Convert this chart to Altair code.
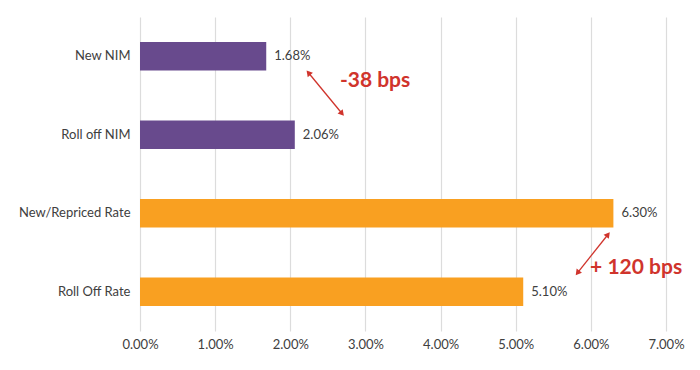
import altair as alt
import pandas as pd

categories = ["New NIM", "Roll off NIM", "New/Repriced Rate", "Roll Off Rate"]
values = [0.0168, 0.0206, 0.0630, 0.0510]
groups = ["NIM", "NIM", "Rate", "Rate"]
group_colors = ["#684a8d", "#f9a021"]
x_ticks = [0.0, 0.01, 0.02, 0.03, 0.04, 0.05, 0.06, 0.07]

# annotation arrows (x in value units, y in band units: 0 = top, 4 = bottom)
arrow_x1 = [0.0225, 0.0622]
arrow_y1 = [0.72, 2.78]
arrow_x2 = [0.0268, 0.0583]
arrow_y2 = [1.22, 3.25]
head_angle1 = [320, 38]
head_angle2 = [140, 218]

ann_text = ["-38 bps", "+ 120 bps"]
ann_x = [0.0266, 0.0599]
ann_y = [0.82, 3.2]

FONT = "Lato"
RED = "#d0342c"

bars_df = pd.DataFrame({"cat": categories, "val": values, "grp": groups})
arrows_df = pd.DataFrame({"x1": arrow_x1, "y1": arrow_y1, "x2": arrow_x2, "y2": arrow_y2})
heads_df = pd.DataFrame({
    "hx": arrow_x1 + arrow_x2,
    "hy": arrow_y1 + arrow_y2,
    "ang": head_angle1 + head_angle2,
})
ann_df = pd.DataFrame({"t": ann_text, "ax": ann_x, "ay": ann_y})

xscale = alt.Scale(domain=[0, 0.07], nice=False)
yq = alt.Scale(domain=[0, 4], reverse=True, nice=False, zero=False)

base = alt.Chart(bars_df)
bars = base.mark_bar().encode(
    x=alt.X("val:Q", scale=xscale,
            axis=alt.Axis(values=x_ticks, format=".2%", title=None, domain=False, ticks=False,
                          grid=True, gridColor="#dcdcdc", gridWidth=1.2, labelFont=FONT,
                          labelFontSize=13, labelColor="#404040", labelPadding=7,
                          labelFlush=False)),
    y=alt.Y("cat:N", sort=categories,
            scale=alt.Scale(paddingInner=0.64, paddingOuter=0.32),
            axis=alt.Axis(title=None, domain=False, ticks=False, labelFont=FONT,
                          labelFontSize=13, labelColor="#404040", labelPadding=10,
                          minExtent=132, maxExtent=132)),
    color=alt.Color("grp:N", scale=alt.Scale(domain=["NIM", "Rate"], range=group_colors), legend=None),
)
labels = base.mark_text(align="left", baseline="middle", dx=8, font=FONT, fontSize=13,
                        color="#404040").encode(
    x=alt.X("val:Q", scale=xscale),
    y=alt.Y("cat:N", sort=categories),
    text=alt.Text("val:Q", format=".2%"),
)
main = alt.layer(bars, labels)

lines = alt.Chart(arrows_df).mark_rule(color=RED, strokeWidth=1.3).encode(
    x=alt.X("x1:Q", scale=xscale),
    x2="x2:Q",
    y=alt.Y("y1:Q", scale=yq, axis=None),
    y2="y2:Q",
)
heads = alt.Chart(heads_df).mark_point(shape="triangle", filled=True, size=45, color=RED,
                                       opacity=1).encode(
    x=alt.X("hx:Q", scale=xscale),
    y=alt.Y("hy:Q", scale=yq, axis=None),
    angle=alt.Angle("ang:Q", scale=None),
)
texts = alt.Chart(ann_df).mark_text(align="left", baseline="middle", font=FONT, fontSize=21,
                                    fontWeight="bold", color=RED).encode(
    x=alt.X("ax:Q", scale=xscale),
    y=alt.Y("ay:Q", scale=yq, axis=None),
    text="t:N",
)
ann = alt.layer(lines, heads, texts)

chart = alt.layer(main, ann).resolve_scale(y="independent").properties(
    width=526, height=314,
    padding={"left": 0, "top": 9, "right": 5, "bottom": 5},
).configure_view(stroke=None)

chart.save("out.html", embed_options={"renderer": "svg", "actions": False})
